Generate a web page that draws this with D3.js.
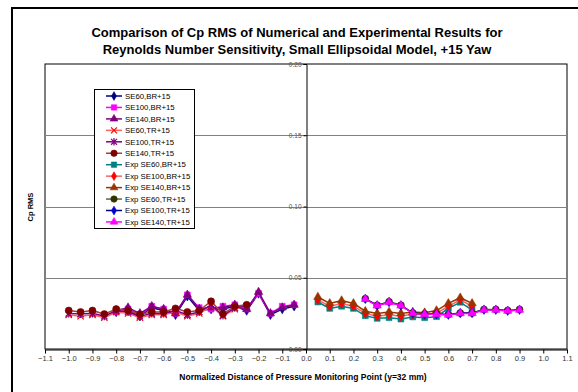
<!DOCTYPE html>
<html>
<head>
<meta charset="utf-8">
<script src="https://cdn.jsdelivr.net/npm/d3@7"></script>
<style>
  html, body { margin: 0; padding: 0; background: #fff; }
  svg { display: block; font-family: Arial, "Liberation Sans", sans-serif; }
</style>
</head>
<body>
<svg id="chart" width="578" height="392"></svg>
<script>
// Tap positions (normalized distance)
const xNumBR = [-0.80, -0.75, -0.70, -0.65, -0.60, -0.55, -0.50, -0.45, -0.40, -0.35, -0.30, -0.25, -0.20, -0.15, -0.10, -0.05];
const xNumTR = [-1.00, -0.95, -0.90, -0.85, -0.80, -0.75, -0.70, -0.65, -0.60, -0.55, -0.50, -0.45, -0.40, -0.35, -0.30, -0.25];
const xExpBR = [0.05, 0.10, 0.15, 0.20, 0.25, 0.30, 0.35, 0.40, 0.45, 0.50, 0.55, 0.60, 0.65, 0.70];
const xExpTR = [0.25, 0.30, 0.35, 0.40, 0.45, 0.50, 0.55, 0.60, 0.65, 0.70, 0.75, 0.80, 0.85, 0.90];

// Numerical Cp RMS
const se60BR  = [0.026, 0.027, 0.023, 0.029, 0.027, 0.024, 0.037, 0.027, 0.028, 0.028, 0.030, 0.027, 0.039, 0.024, 0.028, 0.030];
const se100BR = [0.026, 0.028, 0.024, 0.030, 0.028, 0.025, 0.038, 0.029, 0.028, 0.030, 0.031, 0.028, 0.039, 0.025, 0.030, 0.031];
const se140BR = [0.027, 0.029, 0.025, 0.030, 0.028, 0.025, 0.038, 0.028, 0.029, 0.029, 0.031, 0.028, 0.040, 0.025, 0.029, 0.031];
const se60TR  = [0.024, 0.023, 0.024, 0.022, 0.026, 0.025, 0.022, 0.024, 0.024, 0.026, 0.023, 0.025, 0.030, 0.023, 0.028, 0.030];
const se100TR = [0.025, 0.0245, 0.025, 0.023, 0.027, 0.026, 0.023, 0.025, 0.025, 0.027, 0.024, 0.026, 0.031, 0.0235, 0.029, 0.030];
const se140TR = [0.027, 0.026, 0.027, 0.0245, 0.028, 0.027, 0.0243, 0.026, 0.026, 0.0285, 0.026, 0.027, 0.0335, 0.0245, 0.030, 0.031];

// Experimental Cp RMS
const expSe60BR  = [0.033, 0.0285, 0.030, 0.0285, 0.0233, 0.0215, 0.022, 0.021, 0.0225, 0.022, 0.0227, 0.0285, 0.0328, 0.0275];
const expSe100BR = [0.0345, 0.030, 0.032, 0.030, 0.025, 0.023, 0.024, 0.023, 0.0245, 0.024, 0.025, 0.030, 0.0345, 0.030];
const expSe140BR = [0.0365, 0.032, 0.034, 0.032, 0.0265, 0.025, 0.026, 0.025, 0.026, 0.0255, 0.027, 0.032, 0.036, 0.032];
const expSe60TR  = [0.0353, 0.0307, 0.0331, 0.0307, 0.0253, 0.0246, 0.0246, 0.0242, 0.0253, 0.0253, 0.0277, 0.0277, 0.027, 0.0277];
const expSe100TR = [0.0352, 0.0306, 0.033, 0.0306, 0.0252, 0.0245, 0.0245, 0.0241, 0.0252, 0.0252, 0.0276, 0.0276, 0.0269, 0.0276];
const expSe140TR = [0.035, 0.0304, 0.0328, 0.0304, 0.025, 0.0243, 0.0243, 0.0239, 0.025, 0.025, 0.0274, 0.0274, 0.0267, 0.0274];

const seriesNames = ["SE60,BR+15", "SE100,BR+15", "SE140,BR+15", "SE60,TR+15", "SE100,TR+15", "SE140,TR+15",
  "Exp SE60,BR+15", "Exp SE100,BR+15", "Exp SE140,BR+15", "Exp SE60,TR+15", "Exp SE100,TR+15", "Exp SE140,TR+15"];

const xTicks = [-1.1, -1.0, -0.9, -0.8, -0.7, -0.6, -0.5, -0.4, -0.3, -0.2, -0.1, 0.0, 0.1, 0.2, 0.3, 0.4, 0.5, 0.6, 0.7, 0.8, 0.9, 1.0, 1.1];
const yTicks = [0.00, 0.05, 0.10, 0.15, 0.20];

const series = [
  { name: seriesNames[0],  xs: xNumBR, ys: se60BR,     line: "#000080", fill: "#000080", shape: "diamond" },
  { name: seriesNames[1],  xs: xNumBR, ys: se100BR,    line: "#FF00FF", fill: "#FF00FF", shape: "square" },
  { name: seriesNames[2],  xs: xNumBR, ys: se140BR,    line: "#800080", fill: "#800080", shape: "triangle" },
  { name: seriesNames[3],  xs: xNumTR, ys: se60TR,     line: "#FF6060", fill: "#FF0000", shape: "x" },
  { name: seriesNames[4],  xs: xNumTR, ys: se100TR,    line: "#800080", fill: "#800080", shape: "star" },
  { name: seriesNames[5],  xs: xNumTR, ys: se140TR,    line: "#A04040", fill: "#800000", shape: "circle" },
  { name: seriesNames[6],  xs: xExpBR, ys: expSe60BR,  line: "#008080", fill: "#008080", shape: "square" },
  { name: seriesNames[7],  xs: xExpBR, ys: expSe100BR, line: "#FF6060", fill: "#FF0000", shape: "diamond" },
  { name: seriesNames[8],  xs: xExpBR, ys: expSe140BR, line: "#993300", fill: "#993300", shape: "triangle" },
  { name: seriesNames[9],  xs: xExpTR, ys: expSe60TR,  line: "#666633", fill: "#333300", shape: "circle" },
  { name: seriesNames[10], xs: xExpTR, ys: expSe100TR, line: "#000080", fill: "#0000CC", shape: "diamond" },
  { name: seriesNames[11], xs: xExpTR, ys: expSe140TR, line: "#FF00FF", fill: "#FF00FF", shape: "triangle" }
];

const svg = d3.select("#chart");

// Chart frame
svg.append("rect").attr("x", 12).attr("y", 8).attr("width", 600).attr("height", 420)
  .attr("fill", "#fff").attr("stroke", "#000").attr("stroke-width", 2);

const plot = { left: 45, right: 567, top: 64, bottom: 349 };
const x = d3.scaleLinear().domain([-1.1, 1.1]).range([plot.left, plot.right]);
const y = d3.scaleLinear().domain([0, 0.2]).range([plot.bottom, plot.top]);

// Title
const title = svg.append("text").attr("text-anchor", "middle")
  .attr("font-weight", "bold").attr("font-size", 13).attr("fill", "#000");
title.append("tspan").attr("x", 297).attr("y", 37).text("Comparison of Cp RMS of Numerical and Experimental Results for");
title.append("tspan").attr("x", 297).attr("y", 54).text("Reynolds Number Sensitivity, Small Ellipsoidal Model, +15 Yaw");

// Plot area
svg.append("rect").attr("x", plot.left).attr("y", plot.top)
  .attr("width", plot.right - plot.left).attr("height", plot.bottom - plot.top)
  .attr("fill", "#fff").attr("stroke", "#000").attr("stroke-width", 1);

// Horizontal gridlines
svg.append("g").selectAll("line").data(yTicks.filter(d => d > 0 && d < 0.2)).join("line")
  .attr("x1", plot.left).attr("x2", plot.right)
  .attr("y1", d => Math.round(y(d)) + 0.5).attr("y2", d => Math.round(y(d)) + 0.5)
  .attr("stroke", "#808080").attr("stroke-width", 1);

// Y axis through x = 0
const yAxis = d3.axisLeft(y).tickValues(yTicks).tickSize(3).tickFormat(d3.format(".2f"));
const gy = svg.append("g").attr("transform", `translate(${Math.round(x(0)) + 0.5},0)`).call(yAxis);
gy.select(".domain").attr("stroke", "#000");
gy.selectAll(".tick line").attr("stroke", "#000");
gy.selectAll(".tick text").attr("font-size", 6.5).attr("fill", "#555")
  .attr("font-family", "Arial, 'Liberation Sans', sans-serif").attr("x", -5);

// X axis along the bottom
const xAxis = d3.axisBottom(x).tickValues(xTicks).tickSize(4).tickSizeOuter(0).tickFormat(d3.format(".1f"));
const gx = svg.append("g").attr("transform", `translate(0,${plot.bottom + 0.5})`).call(xAxis);
gx.select(".domain").attr("stroke", "#000");
gx.selectAll(".tick line").attr("stroke", "#000");
gx.selectAll(".tick text").attr("font-size", 7.5).attr("fill", "#333")
  .attr("font-family", "Arial, 'Liberation Sans', sans-serif").attr("dy", "0.9em").attr("y", 5);

// Axis titles
svg.append("text").attr("x", 303).attr("y", 380).attr("text-anchor", "middle")
  .attr("font-weight", "bold").attr("font-size", 8.5).attr("fill", "#000")
  .text("Normalized Distance of Pressure Monitoring Point (y=32 mm)");
svg.append("text").attr("transform", "translate(33,207) rotate(-90)").attr("text-anchor", "middle")
  .attr("font-weight", "bold").attr("font-size", 7.5).attr("fill", "#000").text("Cp RMS");

// Marker paths
function markerPath(shape, s) {
  switch (shape) {
    case "diamond": return d3.symbol(d3.symbolDiamond, 26 * s)();
    case "square": return d3.symbol(d3.symbolSquare, 34 * s)();
    case "triangle": return d3.symbol(d3.symbolTriangle, 30 * s)();
    case "circle": return d3.symbol(d3.symbolCircle, 38 * s)();
    case "x": { const r = 3.2 * Math.sqrt(s); return `M${-r},${-r}L${r},${r}M${-r},${r}L${r},${-r}`; }
    case "star": { const r = 3.2 * Math.sqrt(s); return `M${-r},${-r}L${r},${r}M${-r},${r}L${r},${-r}M0,${-r - 0.8}L0,${r + 0.8}`; }
  }
}
function drawMarker(g, shape, color, s) {
  const p = g.append("path").attr("d", markerPath(shape, s));
  if (shape === "x" || shape === "star") p.attr("fill", "none").attr("stroke", color).attr("stroke-width", 1.2);
  else p.attr("fill", color).attr("stroke", color).attr("stroke-width", 0.6);
  return p;
}

// Series lines and markers
const line = d3.line().x(d => x(d[0])).y(d => y(d[1]));
const gData = svg.append("g");
series.forEach(s => {
  const pts = s.xs.map((v, i) => [v, s.ys[i]]);
  const g = gData.append("g");
  g.append("path").attr("d", line(pts)).attr("fill", "none").attr("stroke", s.line).attr("stroke-width", 1.5);
  pts.forEach(p => {
    const m = g.append("g").attr("transform", `translate(${x(p[0])},${y(p[1])})`);
    drawMarker(m, s.shape, s.fill, 1);
  });
});

// Legend
const leg = svg.append("g");
leg.append("rect").attr("x", 94.5).attr("y", 89.5).attr("width", 100).attr("height", 139)
  .attr("fill", "#fff").attr("stroke", "#000").attr("stroke-width", 1);
series.forEach((s, i) => {
  const yy = 96 + i * 11.45;
  const row = leg.append("g").attr("transform", `translate(0,${yy})`);
  row.append("line").attr("x1", 106).attr("x2", 122).attr("y1", 0).attr("y2", 0)
    .attr("stroke", s.line).attr("stroke-width", 1.5);
  const m = row.append("g").attr("transform", "translate(114,0)");
  drawMarker(m, s.shape, s.fill, 0.85);
  row.append("text").attr("x", 125).attr("y", 0).attr("dy", "0.35em")
    .attr("font-size", 7.8).attr("fill", "#000").text(s.name);
});
</script>
</body>
</html>
